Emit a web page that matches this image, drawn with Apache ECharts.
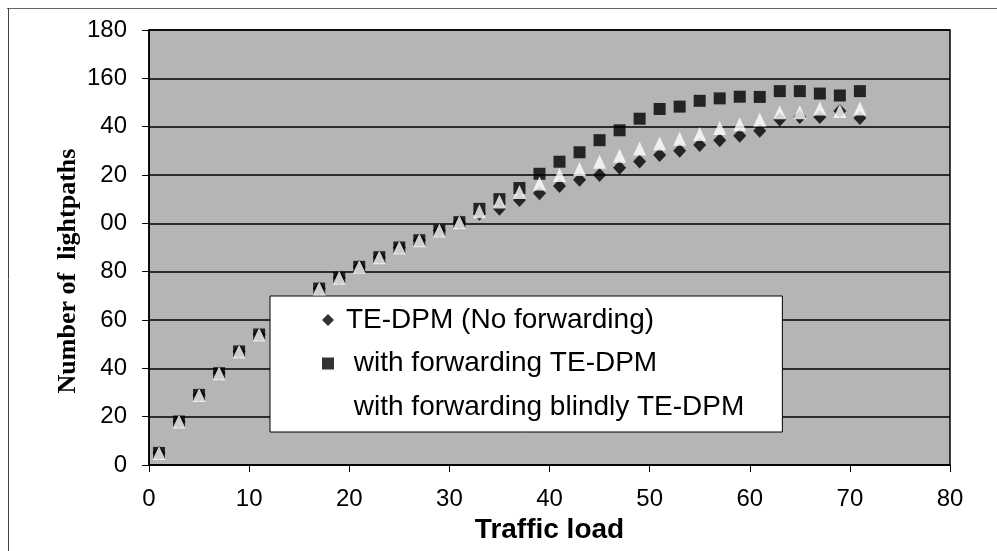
<!DOCTYPE html>
<html>
<head>
<meta charset="utf-8">
<script src="https://cdn.jsdelivr.net/npm/echarts@6/dist/echarts.min.js"></script>
<style>
html,body{margin:0;padding:0;background:#fff;}
#chart{width:997px;height:551px;}
</style>
</head>
<body>
<div id="chart"></div>
<script>
var trafficLoad = [1,3,5,7,9,11,13,15,17,19,21,23,25,27,29,31,33,35,37,39,41,43,45,47,49,51,53,55,57,59,61,63,65,67,69,71];
var noForwarding = [5,18,29,38,47,54,60,66,73,77.5,82,86,90,93,97,100.5,104,106,109.7,112.5,115.5,118,120,123,125.6,128.3,130,132.4,134.4,136.2,138.3,143,144,144,146.5,143.6];
var withForwarding = [5,18,29,38,47,54,60,66,73,77.5,82,86,90,93,97,100.5,106,110,114.6,120.5,125.5,129.4,134.4,138.5,143.3,147.3,148.3,150.7,151.7,152.4,152.3,154.7,154.7,153.7,152.9,154.7];
var blindly = [5,18,29,38,47,54,60,66,73,77.5,82,86,90,93,97,100.5,105,109,113,116.5,120,122.5,125.5,128,131,133,135,137,139.5,141,143,146,146,147.5,146.5,147.5];
var yTickLabels = ['0','20','40','60','80','00','20','40','160','180'];
var xTickLabels = ['0','10','20','30','40','50','60','70','80'];
var seriesNames = ['TE-DPM (No forwarding)', ' with forwarding TE-DPM', ' with forwarding blindly TE-DPM'];
var xAxisTitle = 'Traffic load';
var yAxisTitle = 'Number of  lightpaths';

function pairs(ys){ return trafficLoad.map(function(x,i){ return [x, ys[i]]; }); }

var chart = echarts.init(document.getElementById('chart'), null, {renderer:'canvas'});
var option = {
  animation: false,
  backgroundColor: '#ffffff',
  grid: {
    left: 149, right: 47, top: 30, bottom: 86,
    show: true, backgroundColor: '#b5b5b5', borderColor: '#000', borderWidth: 1.5
  },
  xAxis: {
    type: 'value', min: 0, max: 80, interval: 10,
    name: xAxisTitle, nameLocation: 'middle', nameGap: 51,
    nameTextStyle: {fontFamily: 'Liberation Sans', fontWeight: 'bold', fontSize: 28, color: '#000'},
    axisLine: {show: true, onZero: false, lineStyle: {color: '#000', width: 1.5}},
    axisTick: {show: true, inside: false, length: 7, lineStyle: {color: '#000', width: 1}},
    axisLabel: {margin: 22, fontFamily: 'Liberation Sans', fontSize: 24, color: '#000',
      formatter: function(v){ return xTickLabels[Math.round(v/10)]; }},
    splitLine: {show: false}
  },
  yAxis: {
    type: 'value', min: 0, max: 180, interval: 20,
    axisLine: {show: true, lineStyle: {color: '#000', width: 1.5}},
    axisTick: {show: true, inside: false, length: 7, lineStyle: {color: '#000', width: 1}},
    axisLabel: {margin: 22, fontFamily: 'Liberation Sans', fontSize: 24, color: '#000',
      formatter: function(v){ return yTickLabels[Math.round(v/20)]; }},
    splitLine: {show: true, lineStyle: {color: '#000', width: 1.5}}
  },
  legend: {
    show: true, orient: 'vertical', left: 270, top: 296,
    backgroundColor: '#fff', borderColor: '#000', borderWidth: 1,
    padding: [9, 38, 10, 52], itemGap: 13.5, itemWidth: 12, itemHeight: 12,
    textStyle: {fontFamily: 'Liberation Sans', fontSize: 28, color: '#000', lineHeight: 30, padding: [0,0,0,7]},
    data: [
      {name: seriesNames[0], icon: 'diamond', itemStyle: {color: '#000'}},
      {name: seriesNames[1], icon: 'rect', itemStyle: {color: '#000'}},
      {name: seriesNames[2], icon: 'triangle', itemStyle: {color: '#fff'}}
    ]
  },
  graphic: [
    {type: 'line', shape: {x1: 7, y1: 8.5, x2: 997, y2: 8.5}, style: {stroke: '#666', lineWidth: 1}},
    {type: 'line', shape: {x1: 8.5, y1: 8, x2: 8.5, y2: 551}, style: {stroke: '#444', lineWidth: 1}},
    {type: 'text', x: 68, y: 271, rotation: Math.PI/2,
      style: {text: yAxisTitle, fontFamily: 'Liberation Serif', fontWeight: 'bold', fontSize: 26, fill: '#000', align: 'center', verticalAlign: 'middle'}}
  ],
  series: [
    {name: seriesNames[0], type: 'scatter', symbol: 'diamond', symbolSize: [13, 14],
      itemStyle: {color: '#000'}, data: pairs(noForwarding), z: 2},
    {name: seriesNames[1], type: 'scatter', symbol: 'rect', symbolSize: 12,
      itemStyle: {color: '#000'}, data: pairs(withForwarding), z: 3},
    {name: seriesNames[2], type: 'scatter', symbol: 'triangle', symbolSize: [13, 14],
      itemStyle: {color: '#fff'}, data: pairs(blindly), z: 4}
  ]
};
chart.setOption(option);
</script>
</body>
</html>
